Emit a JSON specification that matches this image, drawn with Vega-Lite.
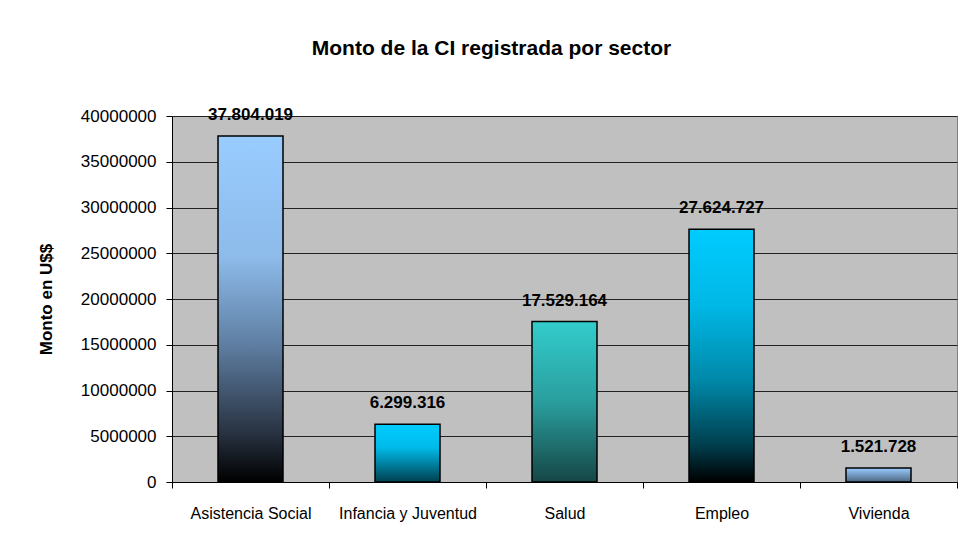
{
  "$schema": "https://vega.github.io/schema/vega-lite/v6.json",
  "width": 785,
  "height": 366,
  "autosize": {"type": "none"},
  "padding": {"left": 172, "top": 116, "right": 3, "bottom": 58},
  "background": "white",
  "title": {
    "text": "Monto de la CI registrada por sector",
    "font": "Liberation Sans",
    "fontSize": 21,
    "fontWeight": "bold",
    "color": "black",
    "anchor": "middle",
    "frame": "group",
    "baseline": "alphabetic",
    "offset": 30,
    "dx": -73
  },
  "data": {
    "values": [
      {"sector": "Asistencia Social", "monto": 37804019},
      {"sector": "Infancia y Juventud", "monto": 6299316},
      {"sector": "Salud", "monto": 17529164},
      {"sector": "Empleo", "monto": 27624727},
      {"sector": "Vivienda", "monto": 1521728}
    ]
  },
  "encoding": {
    "x": {
      "field": "sector",
      "type": "nominal",
      "sort": null,
      "scale": {"paddingInner": 0, "paddingOuter": 0},
      "axis": {
        "title": null,
        "labelAngle": 0,
        "labelFont": "Liberation Sans",
        "labelFontSize": 16,
        "labelColor": "black",
        "labelPadding": 17,
        "tickBand": "extent",
        "ticks": true,
        "tickColor": "black",
        "tickSize": 6,
        "domainColor": "black",
        "grid": false
      }
    },
    "y": {
      "field": "monto",
      "type": "quantitative",
      "scale": {"domain": [0, 40000000], "nice": false},
      "axis": {
        "title": "Monto en U$$",
        "titleFont": "Liberation Sans",
        "titleFontSize": 17,
        "titleFontWeight": "bold",
        "titleColor": "black",
        "titleX": -126,
        "titleY": 183,
        "titleAlign": "center",
        "titleBaseline": "middle",
        "titleAngle": -90,
        "values": [0, 5000000, 10000000, 15000000, 20000000, 25000000, 30000000, 35000000, 40000000],
        "format": "d",
        "labelFont": "Liberation Sans",
        "labelFontSize": 17,
        "labelColor": "black",
        "labelPadding": 10,
        "tickSize": 6,
        "tickColor": "black",
        "domainColor": "black",
        "grid": true,
        "gridColor": "#222222",
        "gridOpacity": 1,
        "gridWidth": 1
      }
    }
  },
  "layer": [
    {
      "transform": [{"filter": "datum.sector == 'Asistencia Social'"}],
      "mark": {
        "type": "bar",
        "width": {"band": 0.414},
        "stroke": "black",
        "strokeWidth": 1.5,
        "fill": {
          "gradient": "linear", "x1": 0, "y1": 0, "x2": 0, "y2": 1,
          "stops": [
            {"offset": 0, "color": "#99CCFF"},
            {"offset": 0.35, "color": "#8DBBEA"},
            {"offset": 0.6, "color": "#5F7FA3"},
            {"offset": 0.85, "color": "#2A3545"},
            {"offset": 1, "color": "#000000"}
          ]
        }
      }
    },
    {
      "transform": [{"filter": "datum.sector == 'Infancia y Juventud'"}],
      "mark": {
        "type": "bar",
        "width": {"band": 0.414},
        "stroke": "black",
        "strokeWidth": 1.5,
        "fill": {
          "gradient": "linear", "x1": 0, "y1": 0, "x2": 0, "y2": 1,
          "stops": [
            {"offset": 0, "color": "#00CCFF"},
            {"offset": 0.4, "color": "#00BBEA"},
            {"offset": 1, "color": "#00404F"}
          ]
        }
      }
    },
    {
      "transform": [{"filter": "datum.sector == 'Salud'"}],
      "mark": {
        "type": "bar",
        "width": {"band": 0.414},
        "stroke": "black",
        "strokeWidth": 1.5,
        "fill": {
          "gradient": "linear", "x1": 0, "y1": 0, "x2": 0, "y2": 1,
          "stops": [
            {"offset": 0, "color": "#33CCCC"},
            {"offset": 0.5, "color": "#2A9E9E"},
            {"offset": 1, "color": "#164646"}
          ]
        }
      }
    },
    {
      "transform": [{"filter": "datum.sector == 'Empleo'"}],
      "mark": {
        "type": "bar",
        "width": {"band": 0.414},
        "stroke": "black",
        "strokeWidth": 1.5,
        "fill": {
          "gradient": "linear", "x1": 0, "y1": 0, "x2": 0, "y2": 1,
          "stops": [
            {"offset": 0, "color": "#00CCFF"},
            {"offset": 0.3, "color": "#00B8E6"},
            {"offset": 0.6, "color": "#0088A8"},
            {"offset": 0.85, "color": "#00404F"},
            {"offset": 1, "color": "#000000"}
          ]
        }
      }
    },
    {
      "transform": [{"filter": "datum.sector == 'Vivienda'"}],
      "mark": {
        "type": "bar",
        "width": {"band": 0.414},
        "stroke": "black",
        "strokeWidth": 1.5,
        "fill": {
          "gradient": "linear", "x1": 0, "y1": 0, "x2": 0, "y2": 1,
          "stops": [
            {"offset": 0, "color": "#99CCFF"},
            {"offset": 1, "color": "#4D6680"}
          ]
        }
      }
    },
    {
      "mark": {
        "type": "text",
        "font": "Liberation Sans",
        "fontSize": 17,
        "fontWeight": "bold",
        "color": "black",
        "baseline": "alphabetic",
        "dy": -16
      },
      "encoding": {
        "text": {"field": "monto", "type": "quantitative", "format": ",d"}
      }
    }
  ],
  "config": {
    "view": {"fill": "#C0C0C0", "stroke": "#808080", "strokeWidth": 1},
    "locale": {
      "number": {"decimal": ",", "thousands": ".", "grouping": [3], "currency": ["$", ""]}
    }
  }
}
